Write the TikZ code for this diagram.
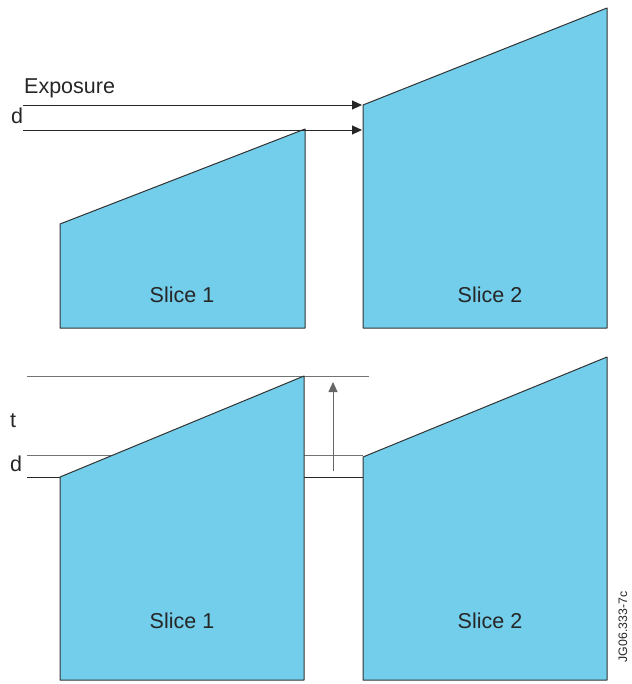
\documentclass[tikz,border=0pt]{standalone}
\usepackage{fontspec}
\setmainfont{Liberation Sans}
\usetikzlibrary{arrows.meta}
\definecolor{slicefill}{RGB}{114,206,235}
\begin{document}
\begin{tikzpicture}[x=1pt,y=-1pt,
  slice/.style={fill=slicefill,draw=black!80,line width=1pt,line join=round},
  arr/.style={draw=black!85,line width=0.9pt,-{Triangle[length=10pt,width=9pt]}},
  guide/.style={draw=black!55,line width=1pt},
  guidedark/.style={draw=black!85,line width=1pt},
  lbl/.style={font=\fontsize{21.5}{24}\selectfont,inner sep=0pt,text=black!85},
  tag/.style={font=\fontsize{12.3}{14}\selectfont,inner sep=0pt,rotate=90,text=black!85}]
\useasboundingbox (0,0) rectangle (631,684);
% top slices
\draw[slice] (60,328) -- (60,224) -- (305,129) -- (305,328) -- cycle;
\draw[slice] (363,328) -- (363,105) -- (607,8) -- (607,328) -- cycle;
\node[lbl,anchor=base] (s1a) at (182,302) {Slice 1};
\node[lbl,anchor=base] (s2a) at (490,302) {Slice 2};
\coordinate (e1) at (23,105);
\coordinate (e2) at (362,105);
\coordinate (d1) at (23,130);
\coordinate (d2) at (362,130);
\draw[arr] (e1) -- (e2);
\draw[arr] (d1) -- (d2);
\node[lbl,anchor=base west] (exp) at (24,94) {Exposure};
\node[lbl,anchor=base west] (dlbl) at (11,124) {d};
% bottom guides
\coordinate (t1) at (27,376);
\coordinate (t2) at (369,376);
\draw[guide] (t1) -- (t2);
\coordinate (g1) at (27,455);
\coordinate (g2) at (363,455);
\draw[guide] (g1) -- (g2);
\coordinate (h1) at (27,477);
\coordinate (h2) at (363,477);
\draw[guidedark] (h1) -- (h2);
% bottom slices
\draw[slice] (60,680) -- (60,477) -- (304,376) -- (304,680) -- cycle;
\draw[slice] (363,680) -- (363,457) -- (607,357) -- (607,680) -- cycle;
\node[lbl,anchor=base] (s1b) at (182,628) {Slice 1};
\node[lbl,anchor=base] (s2b) at (490,628) {Slice 2};
\coordinate (v1) at (333,471);
\coordinate (v2) at (333,382);
\draw[arr,draw=black!60] (v1) -- (v2);
\node[lbl,anchor=base west] (tlbl) at (10,427) {t};
\node[lbl,anchor=base west] (d2lbl) at (10,471) {d};
\node[tag] (tag) at (623,627) {JG06.333-7c};
\end{tikzpicture}
\end{document}
